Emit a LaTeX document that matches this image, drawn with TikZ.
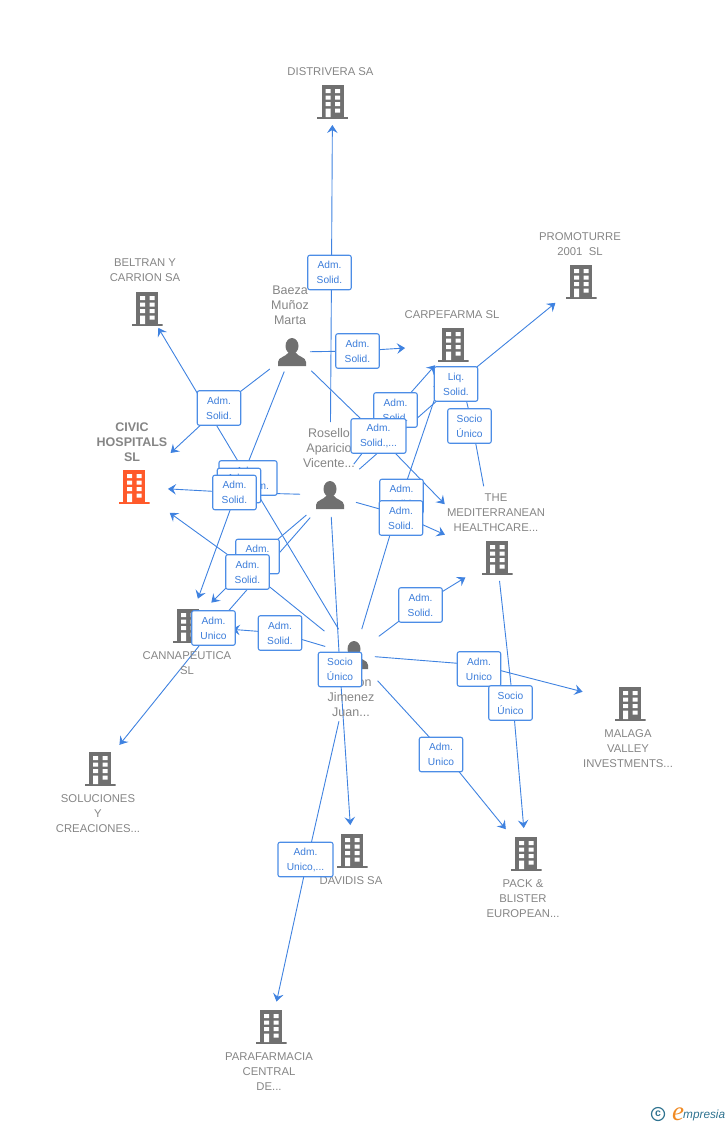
\documentclass[tikz,border=0pt]{standalone}
\usepackage{fontspec}
\setmainfont{Liberation Sans}
\newfontfamily\logofont{Liberation Serif}
\usetikzlibrary{arrows.meta}
\pgfdeclarelayer{lines}
\pgfsetlayers{lines,main}

\definecolor{linkblue}{HTML}{3F82E0}
\definecolor{boxblue}{HTML}{4C8DE6}
\definecolor{textblue}{HTML}{3C7DDA}
\definecolor{icongrey}{HTML}{707070}
\definecolor{namegrey}{HTML}{858585}
\definecolor{civicred}{HTML}{FF5A2B}
\definecolor{logoteal}{HTML}{2F7390}
\definecolor{logoorange}{HTML}{F08A24}

\newcommand{\buildingicon}[1]{%
    \begin{scope}[shift={(path picture bounding box.center)}]
        \fill[#1] (-11,-17) rectangle (11,15);
        \fill[#1] (-15.5,14.5) rectangle (15.5,17);
        \foreach \wy in {-13,-6.5,0}
            \fill[white] (-7,\wy) rectangle (-2,\wy+4) (2.5,\wy) rectangle (7.5,\wy+4);
        \fill[white] (-7,6.5) rectangle (-2,15) (2.5,6.5) rectangle (7.5,10.5);
    \end{scope}}
\newcommand{\personicon}{%
    \begin{scope}[shift={(path picture bounding box.center)}]
        \fill[icongrey] (0,-6) ellipse (6.5 and 8);
        \fill[icongrey] (-14,14) -- (-14,10) .. controls (-14,5) and (-6,5) .. (-3,0) -- (3,0)
            .. controls (6,5) and (14,5) .. (14,10) -- (14,14) -- cycle;
    \end{scope}}

\tikzset{
    building/.style={inner sep=0pt,outer sep=0pt,minimum width=31pt,minimum height=34pt,path picture={\buildingicon{icongrey}}},
    mainbuilding/.style={inner sep=0pt,outer sep=0pt,minimum width=31pt,minimum height=34pt,path picture={\buildingicon{civicred}}},
    person/.style={inner sep=0pt,outer sep=0pt,minimum width=28pt,minimum height=28pt,path picture={\personicon}},
    company/.style={align=center,text=namegrey,font=\fontsize{11.3}{15}\selectfont},
    maincompany/.style={align=center,text=namegrey,font=\fontsize{12.5}{15}\selectfont\bfseries},
    personname/.style={align=center,text=namegrey,font=\fontsize{12.5}{15}\selectfont},
    role/.style={draw=boxblue,fill=white,rounded corners=2pt,line width=1.1pt,align=center,text=textblue,
        font=\fontsize{10.2}{15}\selectfont,inner sep=0pt,minimum width=43.5pt,minimum height=34.5pt},
    widerole/.style={role,minimum width=55pt},
    link/.style={->,>={Stealth[length=8pt,width=10.5pt,inset=3pt]},draw=linkblue,line width=.9pt}
}

\begin{document}
\begin{tikzpicture}[x=1pt,y=-1pt]
    \useasboundingbox (0,0) rectangle (728,1125);

    % companies
    \node[building] (distrivera) at (332.5,102) {};
    \node[building] (promoturre) at (581,282) {};
    \node[building] (beltran) at (147,309) {};
    \node[building] (carpefarma) at (453,345) {};
    \node[mainbuilding] (civic) at (134,487) {};
    \node[building] (mediterranean) at (497,558) {};
    \node[building] (cannapeutica) at (188,626) {};
    \node[building] (malaga) at (630,704) {};
    \node[building] (soluciones) at (100,769) {};
    \node[building] (davidis) at (352,851) {};
    \node[building] (pack) at (526,854) {};
    \node[building] (parafarmacia) at (271,1027) {};

    \node[company] (distrivera-name) at (330.5,72) {DISTRIVERA SA};
    \node[company] (promoturre-name) at (580,244.5) {PROMOTURRE\\2001\ \ SL};
    \node[company] (beltran-name) at (145,270.5) {BELTRAN Y\\CARRION SA};
    \node[company] (carpefarma-name) at (452,315) {CARPEFARMA SL};
    \node[maincompany] (civic-name) at (132,442) {CIVIC\\HOSPITALS\\SL};
    \node[company] (mediterranean-name) at (496,513) {THE\\MEDITERRANEAN\\HEALTHCARE...};
    \node[company] (cannapeutica-name) at (187,663.5) {CANNAPEUTICA\\SL};
    \node[company] (malaga-name) at (628,749) {MALAGA\\VALLEY\\INVESTMENTS...};
    \node[company] (soluciones-name) at (98,814) {SOLUCIONES\\Y\\CREACIONES...};
    \node[company] (davidis-name) at (351,881) {DAVIDIS SA};
    \node[company] (pack-name) at (523,899) {PACK \&\\BLISTER\\EUROPEAN...};
    \node[company] (parafarmacia-name) at (269,1072) {PARAFARMACIA\\CENTRAL\\DE...};

    % people
    \node[person] (baeza) at (292,352) {};
    \node[person] (rosello) at (330,495) {};
    \node[person] (carrion) at (354,655) {};

    \node[personname] (baeza-name) at (290,305) {Baeza\\Muñoz\\Marta};
    \node[personname] (rosello-name) at (329,448) {Rosello\\Aparicio\\Vicente...};
    \node[personname] (carrion-name) at (351,697) {Carrion\\Jimenez\\Juan...};

    % roles, later ones lie over earlier ones
    \node[role] (r-distrivera) at (329.5,272.5) {Adm.~\\Solid.};
    \node[role] (r-carpefarma) at (357.5,351) {Adm.~\\Solid.};
    \node[role] (r-civic) at (219,408) {Adm.~\\Solid.};
    \node[role,minimum width=58pt] (r-beltran) at (248,478) {Adm.\\Mancom.};
    \node[role] (r-canna) at (239,485.5) {Adm.~\\Solid.};
    \node[role] (r-civic2) at (234.5,492.5) {Adm.~\\Solid.};
    \node[role] (r-canna2) at (257.5,556.5) {Adm.~\\Solid.};
    \node[role] (r-civic3) at (247.5,572) {Adm.~\\Solid.};
    \node[role] (r-soluciones) at (213.5,628) {Adm.~\\Unico};
    \node[role] (r-canna3) at (280,633) {Adm.~\\Solid.};
    \node[role] (r-carpe2) at (395.5,410) {Adm.~\\Solid.};
    \node[widerole] (r-medi) at (378.5,436) {Adm.\\Solid.,...};
    \node[role] (r-promoturre) at (456,384) {Liq.\\Solid.};
    \node[role] (r-socio) at (469.5,426) {Socio\\Único};
    \node[role] (r-carpe3) at (401.5,496.5) {Adm.~\\Solid.};
    \node[role] (r-medi2) at (401,518) {Adm.~\\Solid.};
    \node[role] (r-medi3) at (420.5,605) {Adm.~\\Solid.};
    \node[role] (r-malaga) at (479,669) {Adm.~\\Unico};
    \node[role] (r-pack) at (510.5,703) {Socio\\Único};
    \node[role] (r-davidis) at (340,669.5) {Socio\\Único};
    \node[role] (r-pack2) at (441,754.5) {Adm.~\\Unico};
    \node[widerole] (r-para) at (305.5,859.5) {Adm.~\\Unico,...};

    % connectors: from / role / to / gap at start / gap at tip / bend under the role
    \begin{pgfonlayer}{lines}
        \foreach \src/\via/\dst/\gapa/\gapb/\bx/\by in {
            rosello/r-distrivera/distrivera/73/23/2/0,
            baeza/r-carpefarma/carpefarma/18/48/0/0,
            baeza/r-civic/civic/28/50/0/0,
            carrion/r-beltran/beltran/30/22/0/0,
            baeza/r-canna/cannapeutica/21/29/0/0,
            rosello/r-civic2/civic/30/34/0/0,
            rosello/r-canna2/cannapeutica/31/33/0/0,
            carrion/r-civic3/civic/38/44/0/-3,
            rosello/r-soluciones/soluciones/30/31/0/0,
            carrion/r-canna3/cannapeutica/30/44/0/0,
            rosello/r-carpe2/carpefarma/39/27/0/0,
            baeza/r-medi/mediterranean/27/75/0/0,
            rosello/r-promoturre/promoturre/39/33/0/0,
            mediterranean/r-socio/carpefarma/73/26/3/0,
            carrion/r-carpe3/carpefarma/27/38/0/0,
            rosello/r-medi2/mediterranean/27/57/0/-3,
            carrion/r-medi3/mediterranean/31/37/0/0,
            carrion/r-malaga/malaga/21/49/0/-4,
            mediterranean/r-pack/pack/23/26/2.5/0,
            rosello/r-davidis/davidis/22/26/0/0,
            carrion/r-pack2/pack/35/32/2/-2.5,
            carrion/r-para/parafarmacia/68/26/2/0}
            \draw[link,shorten <=\gapa pt,shorten >=\gapb pt] (\src.center) -- ([shift={(\bx,\by)}]\via.center) -- (\dst.center);
    \end{pgfonlayer}

    % logo
    \node[circle,draw=logoteal,line width=1.2pt,inner sep=0pt,minimum size=13pt,text=logoteal,
        font=\fontsize{10.5}{10}\selectfont\bfseries] (logo-c) at (658,1114) {c};
    \node[text=logoorange,font=\logofont\fontsize{27}{27}\selectfont\itshape,inner sep=0pt,anchor=base] (logo-e) at (678,1120) {e};
    \node[text=logoteal,font=\fontsize{11.8}{14}\selectfont\itshape,inner sep=0pt,anchor=base west] (logo-name) at (683,1118) {mpresia};
\end{tikzpicture}
\end{document}
